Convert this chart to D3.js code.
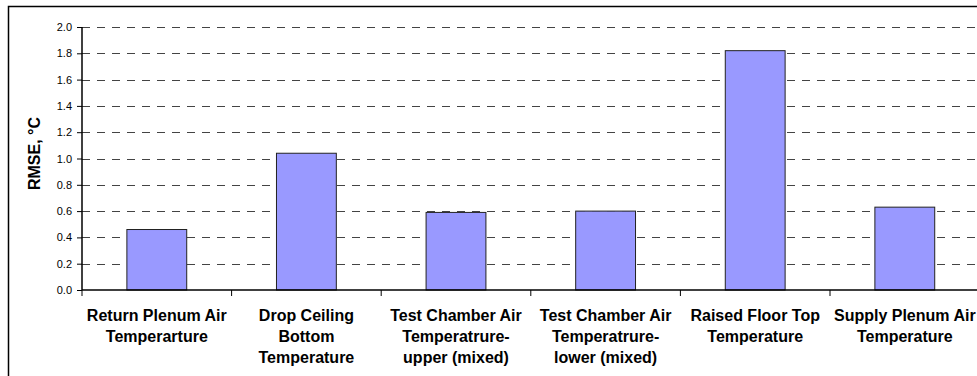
<!DOCTYPE html>
<html>
<head>
<meta charset="utf-8">
<script src="https://cdn.jsdelivr.net/npm/d3@7"></script>
<style>
  html, body { margin: 0; padding: 0; background: #fff; }
  svg { display: block; }
</style>
</head>
<body>
<svg id="chart" width="977" height="376"></svg>
<script>
// RMSE per sensor location
const categories = [
  ["Return Plenum Air", "Temperarture"],
  ["Drop Ceiling", "Bottom", "Temperature"],
  ["Test Chamber Air", "Temperatrure-", "upper (mixed)"],
  ["Test Chamber Air", "Temperatrure-", "lower (mixed)"],
  ["Raised Floor Top", "Temperature"],
  ["Supply Plenum Air", "Temperature"]
];
const rmse = [0.46, 1.04, 0.59, 0.60, 1.82, 0.63];
const yTicks = [0.0, 0.2, 0.4, 0.6, 0.8, 1.0, 1.2, 1.4, 1.6, 1.8, 2.0];
const yTitle = "RMSE, °C";

(function draw() {
  const svg = d3.select("#chart");
  const plotLeft = 82, plotRight = 979.6, plotTop = 27, plotBottom = 290;
  const font = "Arial, 'Liberation Sans', sans-serif";

  // outer chart frame (runs off the right and bottom edges)
  svg.append("rect")
    .attr("x", 8.5).attr("y", 6.5)
    .attr("width", 1000).attr("height", 400)
    .attr("fill", "#fff").attr("stroke", "#000").attr("stroke-width", 1.5);

  const keys = categories.map((c, i) => i);
  const x = d3.scaleBand().domain(keys).range([plotLeft, plotRight]).paddingInner(0).paddingOuter(0);
  const y = d3.scaleLinear().domain([0, 2]).range([plotBottom, plotTop]);

  // dashed horizontal gridlines
  svg.append("g").selectAll("line")
    .data(yTicks.filter(v => v > 0))
    .join("line")
    .attr("x1", plotLeft).attr("x2", 977)
    .attr("y1", d => Math.round(y(d)) + 0.5).attr("y2", d => Math.round(y(d)) + 0.5)
    .attr("stroke", "#444").attr("stroke-width", 1)
    .attr("stroke-dasharray", "8,7");

  // bars: Excel-style gap width 150%
  const barW = x.bandwidth() / 2.5;
  svg.append("g").selectAll("rect")
    .data(rmse)
    .join("rect")
    .attr("x", (d, i) => x(i) + (x.bandwidth() - barW) / 2)
    .attr("y", d => y(d))
    .attr("width", barW)
    .attr("height", d => y(0) - y(d))
    .attr("fill", "#9999FF")
    .attr("stroke", "#222").attr("stroke-width", 1);

  // y axis
  const yAxis = d3.axisLeft(y).tickValues(yTicks).tickFormat(d3.format(".1f")).tickSize(5).tickPadding(5);
  const gy = svg.append("g").attr("transform", `translate(${plotLeft},0)`).call(yAxis);
  gy.select(".domain").attr("stroke", "#000").attr("stroke-width", 1.5).attr("d", `M0,${plotTop}V${plotBottom}`);
  gy.selectAll(".tick line").attr("stroke", "#000");
  gy.selectAll(".tick text")
    .attr("font-family", font).attr("font-size", 11).attr("fill", "#000");

  // x axis baseline and category separators
  svg.append("line")
    .attr("x1", plotLeft).attr("x2", 977).attr("y1", plotBottom).attr("y2", plotBottom)
    .attr("stroke", "#000").attr("stroke-width", 1.5);
  svg.append("g").selectAll("line")
    .data(keys)
    .join("line")
    .attr("x1", d => x(d)).attr("x2", d => x(d))
    .attr("y1", plotBottom).attr("y2", plotBottom + 6)
    .attr("stroke", "#000").attr("stroke-width", 1);

  // category labels
  const lab = svg.append("g")
    .attr("font-family", font).attr("font-size", 16).attr("font-weight", "bold")
    .attr("text-anchor", "middle").attr("fill", "#000");
  lab.selectAll("text")
    .data(categories)
    .join("text")
    .attr("x", (d, i) => x(i) + x.bandwidth() / 2)
    .attr("y", 321)
    .selectAll("tspan")
    .data(d => d)
    .join("tspan")
    .attr("x", function () { return this.parentNode.getAttribute("x"); })
    .attr("dy", (d, i) => i === 0 ? 0 : 20.8)
    .text(d => d);

  // y axis title
  svg.append("text")
    .attr("transform", "translate(39.5,153.5) rotate(-90)")
    .attr("text-anchor", "middle")
    .attr("font-family", font).attr("font-size", 16).attr("font-weight", "bold")
    .attr("fill", "#000")
    .text(yTitle);
})();
</script>
</body>
</html>
